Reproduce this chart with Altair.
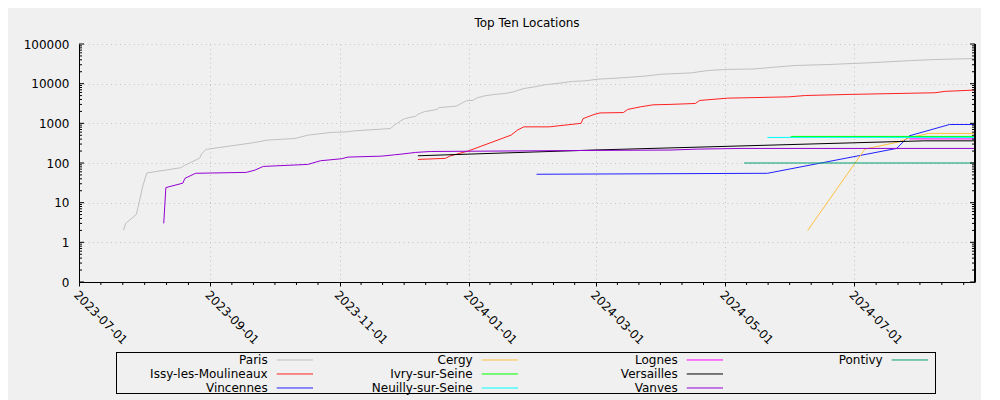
import altair as alt
import pandas as pd

names = ["Paris", "Issy-les-Moulineaux", "Vincennes", "Cergy", "Ivry-sur-Seine",
         "Neuilly-sur-Seine", "Lognes", "Versailles", "Vanves", "Pontivy"]
colors = ["#c0c0c0", "#ff2020", "#2020ff", "#ffc040", "#00ff00", "#00ffff",
          "#ff00ff", "#000000", "#9400d3", "#009e73"]

paris_dates = ["2023-07-22", "2023-07-23", "2023-07-28", "2023-07-29", "2023-07-31", "2023-08-02",
               "2023-08-18", "2023-08-20", "2023-08-26", "2023-08-27", "2023-08-28", "2023-08-30",
               "2023-09-01", "2023-09-21", "2023-09-28", "2023-10-11", "2023-10-17", "2023-10-28",
               "2023-11-05", "2023-11-07", "2023-11-25", "2023-11-28", "2023-12-01", "2023-12-02",
               "2023-12-07", "2023-12-08", "2023-12-11", "2023-12-17", "2023-12-18", "2023-12-26",
               "2023-12-29", "2023-12-31", "2024-01-03", "2024-01-05", "2024-01-08", "2024-01-13",
               "2024-01-18", "2024-01-22", "2024-01-27", "2024-02-01", "2024-02-06", "2024-02-14",
               "2024-02-19", "2024-02-25", "2024-03-02", "2024-03-08", "2024-03-16", "2024-03-24",
               "2024-04-01", "2024-04-15", "2024-04-23", "2024-05-02", "2024-05-15", "2024-05-23",
               "2024-06-03", "2024-06-19", "2024-07-01", "2024-07-07", "2024-07-28", "2024-08-08",
               "2024-08-27"]
paris_values = [2, 3, 5, 8, 25, 56,
                76, 88, 125, 133, 174, 220,
                228, 323, 378, 415, 503, 590,
                610, 640, 740, 1000, 1250, 1320,
                1510, 1700, 1960, 2240, 2500, 2700,
                3300, 3700, 3800, 4400, 4850, 5350,
                5650, 6200, 7550, 8300, 9350, 10500,
                11400, 11800, 13000, 13500, 14400, 15500,
                17300, 18700, 21500, 22900, 23500, 25700,
                28700, 30400, 32400, 33300, 38300, 40600,
                43000]

issy_dates = ["2023-12-08", "2023-12-21", "2023-12-23", "2024-01-01", "2024-01-21", "2024-01-24",
              "2024-01-27", "2024-02-08", "2024-02-23", "2024-02-24", "2024-02-29", "2024-03-03",
              "2024-03-14", "2024-03-16", "2024-03-22", "2024-03-28", "2024-04-05", "2024-04-17",
              "2024-04-19", "2024-05-02", "2024-05-31", "2024-06-08", "2024-06-28", "2024-08-08",
              "2024-08-13", "2024-08-27"]
issy_values = [123, 131, 149, 203, 505, 675,
               815, 815, 1000, 1320, 1660, 1830,
               1870, 2240, 2600, 2930, 3000, 3170,
               3770, 4310, 4650, 5030, 5350, 5900,
               6400, 6900]

vincennes_dates = ["2024-02-02", "2024-05-21", "2024-07-21", "2024-07-27", "2024-08-15", "2024-08-27"]
vincennes_values = [52, 55, 233, 484, 935, 935]

cergy_dates = ["2024-06-09", "2024-07-06", "2024-07-22", "2024-07-27", "2024-08-05", "2024-08-27"]
cergy_values = [2, 224, 340, 430, 556, 556]

ivry_dates = ["2024-06-01", "2024-08-27"]
ivry_values = [468, 468]

neuilly_dates = ["2024-05-21", "2024-08-27"]
neuilly_values = [441, 441]

lognes_dates = ["2024-07-27", "2024-08-27"]
lognes_values = [405, 405]

versailles_dates = ["2023-12-08", "2024-03-01", "2024-08-03", "2024-08-27"]
versailles_values = [152, 213, 362, 362]

vanves_dates = ["2023-08-10", "2023-08-11", "2023-08-19", "2023-08-20", "2023-08-25", "2023-09-18",
                "2023-09-22", "2023-09-26", "2023-10-17", "2023-10-23", "2023-11-02", "2023-11-05",
                "2023-11-21", "2023-11-27", "2023-11-30", "2023-12-07", "2023-12-14", "2024-03-03",
                "2024-04-05", "2024-04-18", "2024-05-09", "2024-08-27"]
vanves_values = [3, 24, 31, 41, 55, 58,
                 66, 82, 92, 114, 128, 141,
                 149, 161, 167, 185, 195, 208,
                 212, 224, 233, 233]

pontivy_dates = ["2024-05-10", "2024-08-27"]
pontivy_values = [100, 100]

x_major_labels = ["2023-07-01", "2023-09-01", "2023-11-01", "2024-01-01",
                  "2024-03-01", "2024-05-01", "2024-07-01"]
y_major_values = [0.1, 1, 10, 100, 1000, 10000, 100000]

series = [
    (paris_dates, paris_values), (issy_dates, issy_values), (vincennes_dates, vincennes_values),
    (cergy_dates, cergy_values), (ivry_dates, ivry_values), (neuilly_dates, neuilly_values),
    (lognes_dates, lognes_values), (versailles_dates, versailles_values),
    (vanves_dates, vanves_values), (pontivy_dates, pontivy_values),
]
rows = []
for order, (name, (ds, vs)) in enumerate(zip(names, series)):
    for d, v in zip(ds, vs):
        rows.append({"city": name, "date": d, "count": v, "k": order})
df = pd.DataFrame(rows)

W, H = 896, 238

# tick positions (axis decoration)
y_minor = [m * 10 ** e for e in range(-1, 5) for m in range(2, 10)]
ymaj_df = pd.DataFrame({"count": y_major_values})
ymin_df = pd.DataFrame({"count": y_minor})
maj_ts = pd.to_datetime(x_major_labels + ["2024-09-01"])
end_ts = pd.Timestamp("2024-08-27")
x_minor = []
for a, b in zip(maj_ts[:-1], maj_ts[1:]):
    for k in range(1, 6):
        t = a + (b - a) * k / 6
        if t <= end_ts:
            x_minor.append(t.strftime("%Y-%m-%dT%H:%M:%SZ"))
xmin_df = pd.DataFrame({"date": x_minor})

def dt(s):
    y, m, d = map(int, s.split("-"))
    return alt.DateTime(year=y, month=m, date=d, utc=True)

xscale = alt.Scale(type="utc", domain=[dt("2023-07-01"), dt("2024-08-27")])
yscale = alt.Scale(type="log", domain=[0.1, 100000], nice=False)
cscale = alt.Scale(domain=names, range=colors)

xaxis = alt.Axis(
    values=[dt(s) for s in x_major_labels],
    labelExpr="utcFormat(datum.value, '%Y-%m-%d')",
    labelAngle=45, labelAlign="left", labelBaseline="top", labelPadding=3,
    tickSize=4, tickColor="black", domainColor="black",
    grid=True, gridDash=[1, 3.5], gridColor="#c4c4c4", title=None)
yaxis = alt.Axis(
    values=y_major_values,
    labelExpr="datum.value < 0.5 ? '0' : format(datum.value, 'd')",
    ticks=False, labelPadding=10, domainColor="black",
    grid=True, gridDash=[1, 3.5], gridColor="#c4c4c4", title=None)

X = lambda f: alt.X(f, scale=xscale, axis=xaxis)
Y = lambda f: alt.Y(f, scale=yscale, axis=yaxis)

lines = alt.Chart(df).mark_line(strokeWidth=1, clip=True).encode(
    x=X("date:T"), y=Y("count:Q"),
    color=alt.Color("city:N", scale=cscale, legend=None),
    order=alt.Order("k:Q"),
)

right_line = alt.Chart(ymaj_df).mark_rule(color="black", strokeWidth=1).encode(
    x=alt.value(W), y=alt.value(0), y2=alt.value(H))
left_major = alt.Chart(ymaj_df).mark_rule(color="black", strokeWidth=1).encode(
    y=Y("count:Q"), x=alt.value(0), x2=alt.value(5))
right_major = alt.Chart(ymaj_df).mark_rule(color="black", strokeWidth=1).encode(
    y=Y("count:Q"), x=alt.value(W - 5), x2=alt.value(W))
left_minor = alt.Chart(ymin_df).mark_rule(color="black", strokeWidth=1).encode(
    y=Y("count:Q"), x=alt.value(0), x2=alt.value(3))
right_minor = alt.Chart(ymin_df).mark_rule(color="black", strokeWidth=1).encode(
    y=Y("count:Q"), x=alt.value(W - 3), x2=alt.value(W))
x_minor_ticks = alt.Chart(xmin_df).mark_rule(color="black", strokeWidth=1).encode(
    x=X("date:T"), y=alt.value(H), y2=alt.value(H + 3))

main = alt.layer(lines, right_line, left_major, right_major, left_minor, right_minor,
                 x_minor_ticks).properties(
    width=W, height=H,
    title=alt.TitleParams("Top Ten Locations", fontSize=12, fontWeight="normal",
                          font="DejaVu Sans", color="black", offset=8),
)

# legend drawn as a small chart below
leg_df = pd.DataFrame({"city": names,
                       "col": [i // 3 for i in range(len(names))],
                       "row": [i % 3 for i in range(len(names))]})
LW, LH = 857, 42
lx = alt.Scale(domain=[-37 / 205, 4.0])
ly = alt.Scale(domain=[-0.57, 2.43], reverse=True)
leg_base = alt.Chart(leg_df).transform_calculate(
    tx="datum.col + 0.74", x1="datum.col + 0.784", x2e="datum.col + 0.961")
leg_text = leg_base.mark_text(align="right", baseline="middle", font="DejaVu Sans",
                              fontSize=12, color="black").encode(
    x=alt.X("tx:Q", scale=lx, axis=None),
    y=alt.Y("row:Q", scale=ly, axis=None),
    text="city:N")
leg_line = leg_base.mark_rule(strokeWidth=1).encode(
    x=alt.X("x1:Q", scale=lx, axis=None), x2="x2e:Q",
    y=alt.Y("row:Q", scale=ly, axis=None),
    color=alt.Color("city:N", scale=cscale, legend=None))
leg_box = alt.Chart(leg_df).mark_rect(filled=False, stroke="black", strokeWidth=1).encode(
    x=alt.value(37.5), x2=alt.value(LW - 0.5),
    y=alt.value(0.5), y2=alt.value(LH - 0.5))
legend = alt.layer(leg_box, leg_line, leg_text).properties(width=LW, height=LH)

chart = alt.vconcat(main, legend, spacing=4).configure(
    background="#f0f0f0", padding={"left": 14, "top": 8, "right": 5, "bottom": 5}
).configure_view(stroke="transparent").configure_axis(
    labelFont="DejaVu Sans", labelFontSize=12, labelColor="black"
)

chart.save("out.html", embed_options={"renderer": "svg", "actions": False})
